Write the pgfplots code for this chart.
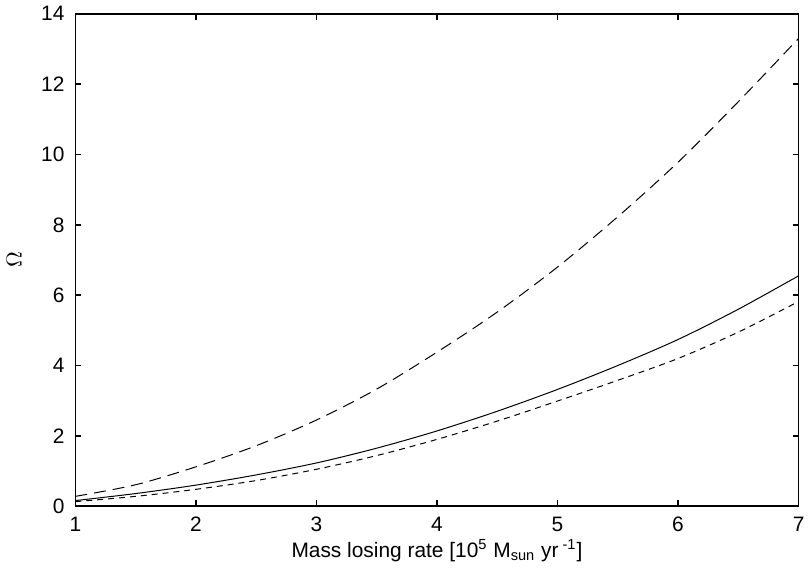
\documentclass[border=0pt]{standalone}
\usepackage{pgfplots}
\pgfplotsset{compat=1.18}
\usepackage{fontspec}
\setmainfont{Liberation Sans}
\begin{document}
\begin{tikzpicture}
\begin{axis}[
    scale only axis,
    width=363.5pt,
    height=247.5pt,
    xmin=1, xmax=7,
    ymin=0, ymax=14,
    xtick={1,2,...,7},
    ytick={0,2,...,14},
    tick align=inside,
    major tick length=3pt,
    axis line style={line width=0.75pt},
    every tick/.style={line width=0.75pt, black},
    font=\fontsize{10.5pt}{12pt}\selectfont,
    /pgf/number format/assume math mode=true,
    xticklabel style={yshift=-2pt},
    yticklabel style={xshift=-2pt},
    xlabel={Mass losing rate [10\textsuperscript{5} M\textsubscript{sun} yr\textsuperscript{ -1}]},
    ylabel={$\Omega$},
    xlabel style={yshift=3pt},
    ylabel style={yshift=3pt},
]
% long dashed
\addplot[black, line width=0.5pt, smooth, dash pattern=on 6pt off 3.5pt] coordinates {
    (1,0.28) (1.5,0.61) (2,1.12) (2.5,1.72) (3,2.45) (3.5,3.33) (4,4.38)
    (4.5,5.52) (5,6.80) (5.5,8.23) (6,9.78) (6.5,11.50) (7,13.30)
};
% solid
\addplot[black, line width=0.5pt, smooth] coordinates {
    (1,0.16) (1.5,0.36) (2,0.60) (2.5,0.89) (3,1.23) (3.5,1.65) (4,2.14)
    (4.5,2.70) (5,3.32) (5.5,4.00) (6,4.74) (6.5,5.60) (7,6.55)
};
% short dashed
\addplot[black, line width=0.5pt, smooth, dash pattern=on 3pt off 2.5pt] coordinates {
    (1,0.13) (1.5,0.28) (2,0.48) (2.5,0.73) (3,1.05) (3.5,1.44) (4,1.90)
    (4.5,2.42) (5,2.99) (5.5,3.58) (6,4.20) (6.5,4.95) (7,5.82)
};
\end{axis}
\end{tikzpicture}
\end{document}
